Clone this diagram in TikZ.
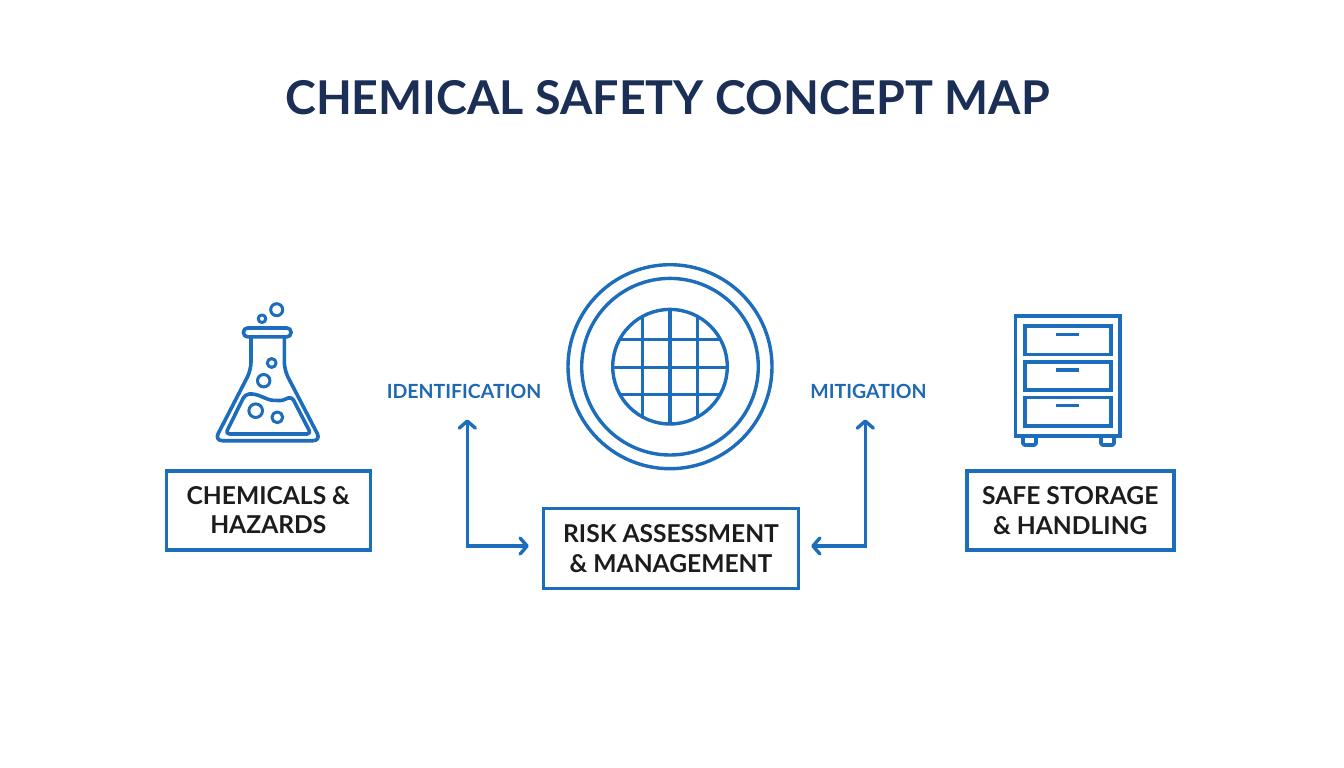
\documentclass[tikz,border=0pt]{standalone}
\usepackage{fontspec}
\setmainfont{Lato}
\usetikzlibrary{arrows.meta}
\definecolor{linecol}{HTML}{1C6DBB}
\definecolor{labcol}{HTML}{1F69B0}
\definecolor{titlecol}{HTML}{1A2E56}
\definecolor{inkcol}{HTML}{1C1C1E}
\tikzset{
  x=1pt,y=-1pt,
  icon/.style={draw=linecol,line width=3.6pt,line join=round},
  gridline/.style={draw=linecol,line width=3.4pt},
  boxnode/.style={draw=linecol,line width=3.4pt,align=center,font=\fontsize{24.6}{29.5}\selectfont\bfseries,text=inkcol,inner sep=0pt,anchor=center},
  lab/.style={font=\fontsize{19.5}{24}\selectfont\bfseries,text=labcol,inner sep=0pt},
  conn/.style={draw=linecol,line width=3.4pt,line join=miter,{Straight Barb[length=7pt,width=16pt,line width=3.4pt,round]}-{Straight Barb[length=7pt,width=16pt,line width=3.4pt,round]}},
}
\begin{document}
\begin{tikzpicture}
\useasboundingbox (0,0) rectangle (1344,768);
\fill[white] (0,0) rectangle (1344,768);

\node[font=\fontsize{46.6}{50}\selectfont\bfseries,text=titlecol,inner sep=0pt] (title) at (667.5,98) {CHEMICAL SAFETY CONCEPT MAP};

% boxes
\node[boxnode,minimum width=204pt,minimum height=79pt] (chem) at (268.3,510.3) {CHEMICALS \&\\HAZARDS};
\node[boxnode,minimum width=255pt,minimum height=80pt] (risk) at (671,548.5) {RISK ASSESSMENT\\\& MANAGEMENT};
\node[boxnode,minimum width=207pt,minimum height=79pt] (safe) at (1070.3,510.5) {SAFE STORAGE\\\& HANDLING};

% labels
\node[lab] (ident) at (464,391) {IDENTIFICATION};
\node[lab] (mitig) at (868.5,391) {MITIGATION};

% connectors
\coordinate (lc) at (467.3,546);
\coordinate (rc) at (865.3,546);
\draw[conn,shorten <=21pt,shorten >=13pt] (ident.south -| lc) -- (lc) -- (risk.west |- lc);
\draw[conn,shorten <=21pt,shorten >=11pt] (mitig.south -| rc) -- (rc) -- (risk.east |- rc);

% flask
\draw[icon,rounded corners=4pt] (243.5,328) rectangle (291,336.8);
\draw[icon,rounded corners=8pt] (251,336.8) -- (251,370) -- (214.5,440.7) -- (321,440.7) -- (284.3,370) -- (284.3,336.8);
\draw[icon,rounded corners=4pt] (245,394.5) .. controls (258,393) and (266,400) .. (277,400.5) .. controls (283,400.5) and (288,398) .. (291.7,396.5) -- (311,434) -- (225.5,434) -- cycle;
\draw[icon,line width=3pt] (276.7,309.7) circle (6);
\draw[icon,line width=3pt] (262,318.7) circle (3.8);
\draw[icon,line width=3pt] (271.7,363) circle (4.4);
\draw[icon,line width=3pt] (263.7,380.7) circle (6.2);
\draw[icon,line width=3pt] (255.7,410.7) circle (6.8);
\draw[icon,line width=3pt] (277.3,417.3) circle (5.4);

% central icon
\draw[gridline] (670,366.7) circle (102);
\draw[gridline] (670,366.7) circle (88.3);
\begin{scope}
\clip (670,366.7) circle (57.3);
\foreach \vx in {642.3,670,697.3} \draw[gridline] (\vx,300) -- (\vx,430);
\foreach \hy in {339.3,367.3,394.3} \draw[gridline] (600,\hy) -- (740,\hy);
\end{scope}
\draw[gridline] (670,366.7) circle (57.3);

% cabinet
\draw[icon,line join=miter] (1015.5,316) rectangle (1120.2,435.7);
\foreach \ytop/\ybot/\yh in {326/354.3/334.3, 361.7/390/370, 397.3/426/405.7}{
  \draw[icon,line join=miter] (1024.7,\ytop) rectangle (1110.7,\ybot);
  \draw[gridline] (1056,\yh) -- (1078.7,\yh);
}
\draw[icon,rounded corners=1.5pt] (1023,435.7) -- (1023,445) -- (1036,445) -- (1036,435.7);
\draw[icon,rounded corners=1.5pt] (1101,435.7) -- (1101,445) -- (1114,445) -- (1114,435.7);
\end{tikzpicture}
\end{document}
